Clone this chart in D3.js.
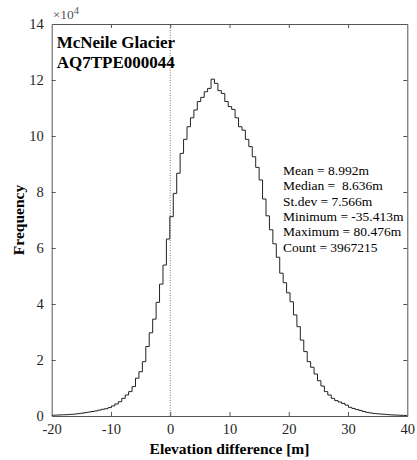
<!DOCTYPE html>
<html>
<head>
<meta charset="utf-8">
<script src="https://cdn.jsdelivr.net/npm/d3@7"></script>
<style>
  body { margin: 0; background: #fff; }
  text { font-family: "Liberation Serif", "Times New Roman", serif; }
</style>
</head>
<body>
<div id="chart"></div>
<script>
//Histogram (stairs) of elevation differences, 200 bins between min and max.

//summary statistics shown on the chart
var glacierName = "McNeile Glacier";
var glacierId = "AQ7TPE000044";
var dataMin = -35.413;
var dataMax = 80.476;
var nBins = 200;
var statLabels = ["Mean = 8.992m", "Median =  8.636m", "St.dev = 7.566m",
  "Minimum = -35.413m", "Maximum = 80.476m", "Count = 3967215"];

//counts per bin, starting at bin index firstBin (tails outside the view are left out)
var firstBin = 25;
var binCounts = [
  200, 250, 300, 350, 400, 450, 500, 600, 700, 850,
  1000, 1200, 1400, 1600, 1800, 2100, 2400, 2600, 3000, 3600,
  4300, 5100, 6300, 7500, 8700, 10500, 13500, 15800, 19400, 24800,
  29700, 34600, 40600, 47100, 53900, 63200, 71200, 79500, 86700, 93800,
  98800, 103300, 106500, 109300, 112300, 113800, 115800, 117000, 120300, 118800,
  116200, 115200, 112300, 110500, 109500, 106500, 103300, 102100, 98800, 96200,
  92600, 88800, 84300, 77500, 71500, 66500, 61500, 56700, 51000, 47600,
  44000, 40800, 36100, 31900, 27100, 23000, 19400, 17400, 15000, 12600,
  10700, 8700, 7500, 6300, 5500, 5000, 4500, 3900, 3100, 2700,
  2300, 2000, 1600, 1300, 1100, 900, 800, 700, 600, 500,
  400, 350, 300, 250, 200, 200
];

//axis ticks
var xTicks = [-20, -10, 0, 10, 20, 30, 40];
var yTicks = [0, 20000, 40000, 60000, 80000, 100000, 120000, 140000];

function drawHistogram(){
  var width = 417;
  var height = 460;
  var margin = {left: 51.7, right: 9.7, top: 24, bottom: 44};
  var svg = d3.select("div#chart")
    .append("svg")
    .attr("width", width)
    .attr("height", height);

  var x = d3.scaleLinear().domain([-20, 40]).range([margin.left, width - margin.right]);
  var y = d3.scaleLinear().domain([0, 140000]).range([height - margin.bottom, margin.top]);

  svg.append("clipPath").attr("id", "plot-clip")
    .append("rect")
      .attr("x", x(-20)).attr("y", y(140000))
      .attr("width", x(40) - x(-20)).attr("height", y(0) - y(140000));

  //zero line, dotted
  svg.append("line")
    .attr("x1", x(0)).attr("x2", x(0))
    .attr("y1", y(0)).attr("y2", y(140000))
    .attr("stroke", "#777")
    .attr("stroke-width", 1)
    .attr("stroke-dasharray", "1,1.5");

  //stairs built from bin edges
  var binWidth = (dataMax - dataMin) / nBins;
  var pts = binCounts.map((c, i) => ({edge: dataMin + (firstBin + i) * binWidth, count: c}));
  pts.push({edge: dataMin + (firstBin + binCounts.length) * binWidth,
    count: binCounts[binCounts.length - 1]});

  var stairs = d3.line()
    .x(d => x(d.edge))
    .y(d => y(d.count))
    .curve(d3.curveStepAfter);

  svg.append("path")
    .datum(pts)
    .attr("clip-path", "url(#plot-clip)")
    .attr("fill", "none")
    .attr("stroke", "#222")
    .attr("stroke-width", 1)
    .attr("d", stairs);

  //axes, MATLAB style: box with inward ticks on all sides
  var tickLen = 4;
  var axisColor = "#555";
  var bottom = svg.append("g")
    .attr("transform", "translate(0," + y(0) + ")")
    .call(d3.axisBottom(x).tickValues(xTicks).tickSizeInner(-tickLen).tickSizeOuter(0).tickPadding(8)
      .tickFormat(d => String(d)));
  var top = svg.append("g")
    .attr("transform", "translate(0," + y(140000) + ")")
    .call(d3.axisTop(x).tickValues(xTicks).tickSizeInner(-tickLen).tickSizeOuter(0).tickFormat(""));
  var left = svg.append("g")
    .attr("transform", "translate(" + x(-20) + ",0)")
    .call(d3.axisLeft(y).tickValues(yTicks).tickSizeInner(-tickLen).tickSizeOuter(0).tickPadding(8)
      .tickFormat(d => String(d / 10000)));
  var right = svg.append("g")
    .attr("transform", "translate(" + x(40) + ",0)")
    .call(d3.axisRight(y).tickValues(yTicks).tickSizeInner(-tickLen).tickSizeOuter(0).tickFormat(""));

  [bottom, top, left, right].forEach(g => {
    g.select(".domain").attr("stroke", axisColor);
    g.selectAll(".tick line").attr("stroke", axisColor);
    g.selectAll("text")
      .attr("font-family", "Liberation Serif")
      .attr("font-size", 14.5)
      .attr("fill", "#262626");
  });
  //first and last ticks sit on the box edges
  left.selectAll(".tick line").filter(d => d === 0 || d === 140000).remove();
  right.selectAll(".tick line").filter(d => d === 0 || d === 140000).remove();
  bottom.selectAll(".tick line").filter(d => d === -20 || d === 40).remove();
  top.selectAll(".tick line").filter(d => d === -20 || d === 40).remove();

  //exponent label
  var expo = svg.append("text")
    .attr("x", x(-20) + 1)
    .attr("y", 19)
    .attr("font-size", 13.5)
    .attr("fill", "#555");
  expo.append("tspan").text("\u00d710");
  expo.append("tspan").attr("dy", -5).attr("font-size", 10.5).text("4");

  //axis titles
  svg.append("text")
    .attr("x", (x(-20) + x(40)) / 2)
    .attr("y", 454)
    .attr("text-anchor", "middle")
    .attr("font-weight", "bold")
    .attr("font-size", 15.5)
    .text("Elevation difference [m]");

  svg.append("text")
    .attr("transform", "translate(24," + ((y(0) + y(140000)) / 2) + ") rotate(-90)")
    .attr("text-anchor", "middle")
    .attr("font-weight", "bold")
    .attr("font-size", 15.5)
    .text("Frequency");

  //glacier name in the top left corner
  svg.selectAll("text.title")
    .data([glacierName, glacierId])
    .enter().append("text")
      .attr("class", "title")
      .attr("x", x(-20) + 5)
      .attr("y", (d, i) => 48 + i * 20)
      .attr("font-weight", "bold")
      .attr("font-size", 17)
      .text(d => d);

  //stats block
  svg.selectAll("text.stat")
    .data(statLabels)
    .enter().append("text")
      .attr("class", "stat")
      .attr("x", 283)
      .attr("y", (d, i) => 175 + i * 15.3)
      .attr("font-size", 13.5)
      .attr("xml:space", "preserve")
      .style("white-space", "pre")
      .text(d => d);
}

drawHistogram();
</script>
</body>
</html>
